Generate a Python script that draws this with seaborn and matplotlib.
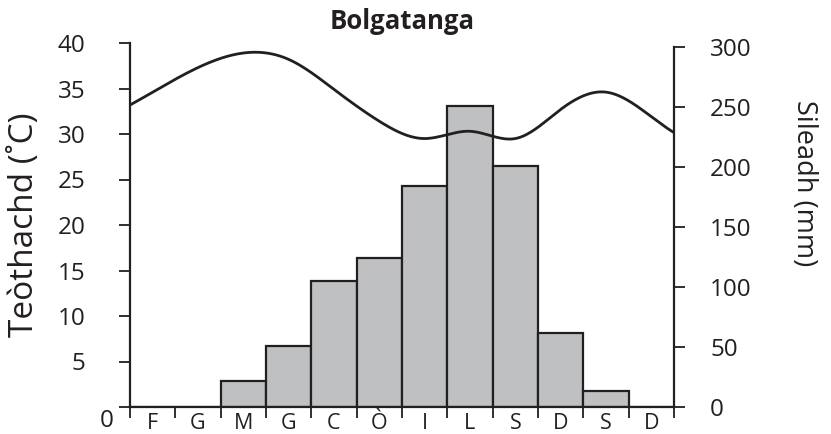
import numpy as np
import pandas as pd
import matplotlib
matplotlib.use("Agg")
import matplotlib.pyplot as plt
import seaborn as sns

# ---- data ----
months = ["F", "G", "M", "G", "C", "Ò", "I", "L", "S", "D", "S", "D"]
precip_mm = [0, 0, 22, 51, 105, 124, 184, 251, 201, 62, 13, 0]
temp_c = [34.6, 37.3, 38.9, 38.2, 34.9, 31.4, 29.5, 30.3, 29.5, 32.7, 34.6, 31.9]
temp_ticks = [0, 5, 10, 15, 20, 25, 30, 35, 40]
precip_ticks = [0, 50, 100, 150, 200, 250, 300]
title = "Bolgatanga"
temp_label = "Teòthachd (˚C)"
precip_label = "Sileadh (mm)"


def natural_spline(x, y, xs):
    x = np.asarray(x, float); y = np.asarray(y, float)
    n = len(x)
    h = np.diff(x)
    A = np.zeros((n, n)); b = np.zeros(n)
    A[0, 0] = 1; A[-1, -1] = 1
    for i in range(1, n - 1):
        A[i, i - 1] = h[i - 1]
        A[i, i] = 2 * (h[i - 1] + h[i])
        A[i, i + 1] = h[i]
        b[i] = 3 * ((y[i + 1] - y[i]) / h[i] - (y[i] - y[i - 1]) / h[i - 1])
    c = np.linalg.solve(A, b)
    bb = np.zeros(n - 1); d = np.zeros(n - 1)
    for i in range(n - 1):
        bb[i] = (y[i + 1] - y[i]) / h[i] - h[i] * (2 * c[i] + c[i + 1]) / 3
        d[i] = (c[i + 1] - c[i]) / (3 * h[i])
    idx = np.clip(np.searchsorted(x, xs) - 1, 0, n - 2)
    dx = xs - x[idx]
    return y[idx] + bb[idx] * dx + c[idx] * dx ** 2 + d[idx] * dx ** 3


sns.set_theme(style="white")
plt.rcParams["font.family"] = ["Open Sans", "DejaVu Sans"]

W, H = 831, 434
fig = plt.figure(figsize=(W / 100, H / 100), dpi=100)
L, R, T, B = 130, 674, 43, 407
axt = fig.add_axes([L / W, 1 - B / H, (R - L) / W, (B - T) / H])
axp = axt.twinx()

df = pd.DataFrame({"month": range(12), "precip": precip_mm})
sns.barplot(data=df, x="month", y="precip", ax=axp, width=1.0,
            color="#bfc0c2", saturation=1, edgecolor="#231f20", linewidth=1.6,
            native_scale=True)

xs = np.linspace(-0.5, 11.5, 400)
curve = pd.DataFrame({"x": xs, "t": natural_spline(np.arange(12), temp_c, xs)})
sns.lineplot(data=curve, x="x", y="t", ax=axt, color="#231f20", linewidth=2.0)

axt.set_zorder(axp.get_zorder() + 1)
axt.patch.set_visible(False)

for ax in (axt, axp):
    ax.set_xlim(-0.5, 11.5)
    ax.set_xlabel("")
    ax.grid(False)
    for s in ax.spines.values():
        s.set_visible(False)

axt.set_ylim(0, 40)
axp.set_ylim(0, 300 * (B - T) / (B - 47))

axt.spines["left"].set_visible(True)
axt.spines["bottom"].set_visible(True)
axp.spines["right"].set_visible(True)
axp.spines["right"].set_bounds(0, 300)
for s in (axt.spines["left"], axt.spines["bottom"], axp.spines["right"]):
    s.set_color("#231f20"); s.set_linewidth(1.6)

col = "#231f20"
axt.set_yticks(temp_ticks)
axt.set_yticklabels([""] + [str(v) for v in temp_ticks[1:]])
axt.tick_params(axis="y", left=True, right=False, direction="out", length=8,
                width=1.3, color=col, labelsize=17.5, pad=24, labelcolor=col)
axp.set_yticks(precip_ticks)
axp.set_yticklabels([str(v) for v in precip_ticks])
axp.tick_params(axis="y", right=True, left=False, direction="out", length=8,
                width=1.3, color=col, labelsize=17.5, pad=18, labelcolor=col)
for lab in axp.get_yticklabels():
    lab.set_horizontalalignment("left")

axt.set_xticks(np.arange(-0.5, 12, 1))
axt.set_xticklabels([])
axt.set_xticks(np.arange(12), minor=True)
axt.set_xticklabels(months, minor=True)
axt.tick_params(axis="x", which="major", bottom=True, direction="out", length=8,
                width=1.3, color=col)
axt.tick_params(axis="x", which="minor", bottom=True, length=0, labelsize=15.5,
                pad=4, labelcolor=col)
axp.tick_params(axis="x", which="both", bottom=False, top=False,
                labelbottom=False, labeltop=False)

axt.text((107 - L) / (R - L), (B - 421) / (B - T), "0", transform=axt.transAxes,
         ha="center", va="center", fontsize=17.5, color=col)

axt.set_ylabel(temp_label, fontsize=24, color=col, va="center")
axt.yaxis.set_label_coords((25 - L) / (R - L), 0.5)
axp.set_ylabel(precip_label, fontsize=19.5, color=col, rotation=270, va="center")
axp.yaxis.set_label_coords((804 - L) / (R - L), (B - 183) / (B - T))

axt.set_title(title, fontsize=18.5, fontweight="bold", color=col, pad=10)

fig.savefig("out.png", dpi=100)
